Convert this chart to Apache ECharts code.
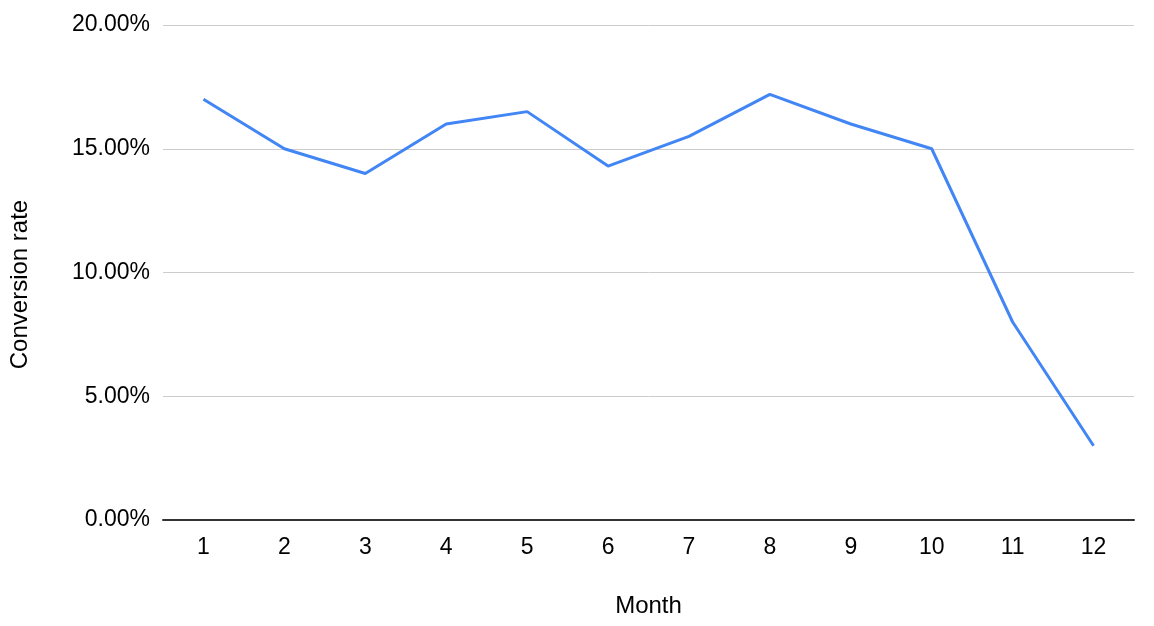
<!DOCTYPE html>
<html>
<head>
<meta charset="utf-8">
<script src="https://cdn.jsdelivr.net/npm/echarts@6/dist/echarts.min.js"></script>
<style>
  html, body { margin: 0; padding: 0; background: #fff; }
  #main { width: 1154px; height: 626px; }
</style>
</head>
<body>
<div id="main"></div>
<script>
// 月份
const months = ['1', '2', '3', '4', '5', '6', '7', '8', '9', '10', '11', '12'];
// 转化率 (%)
const conversionRate = [17, 15, 14, 16, 16.5, 14.3, 15.5, 17.2, 16, 15, 8, 3];

const chart = echarts.init(document.getElementById('main'));
const font = '"Liberation Sans", Arial, sans-serif';

chart.setOption({
  animation: false,
  grid: { left: 163, right: 20, top: 25, bottom: 106, containLabel: false },
  xAxis: {
    type: 'category',
    data: months,
    name: 'Month',
    nameLocation: 'middle',
    nameGap: 74,
    nameTextStyle: { fontFamily: font, fontSize: 24, color: '#000' },
    axisLine: { lineStyle: { color: '#333', width: 2 } },
    axisTick: { show: false },
    axisLabel: { fontFamily: font, fontSize: 23, color: '#000', margin: 16 }
  },
  yAxis: {
    type: 'value',
    min: 0,
    max: 20,
    interval: 5,
    name: 'Conversion rate',
    nameLocation: 'middle',
    nameGap: 131,
    nameTextStyle: { fontFamily: font, fontSize: 24, color: '#000', padding: [0, 24, 0, 0] },
    axisLine: { show: false },
    axisTick: { show: false },
    axisLabel: {
      fontFamily: font, fontSize: 23, color: '#000', margin: 13,
      padding: [4, 0, 0, 0],
      formatter: v => v.toFixed(2) + '%'
    },
    splitLine: { lineStyle: { color: '#cccccc', width: 1 } }
  },
  series: [{
    type: 'line',
    data: conversionRate,
    symbol: 'none',
    lineStyle: { color: '#4285F4', width: 3 }
  }]
});
</script>
</body>
</html>
